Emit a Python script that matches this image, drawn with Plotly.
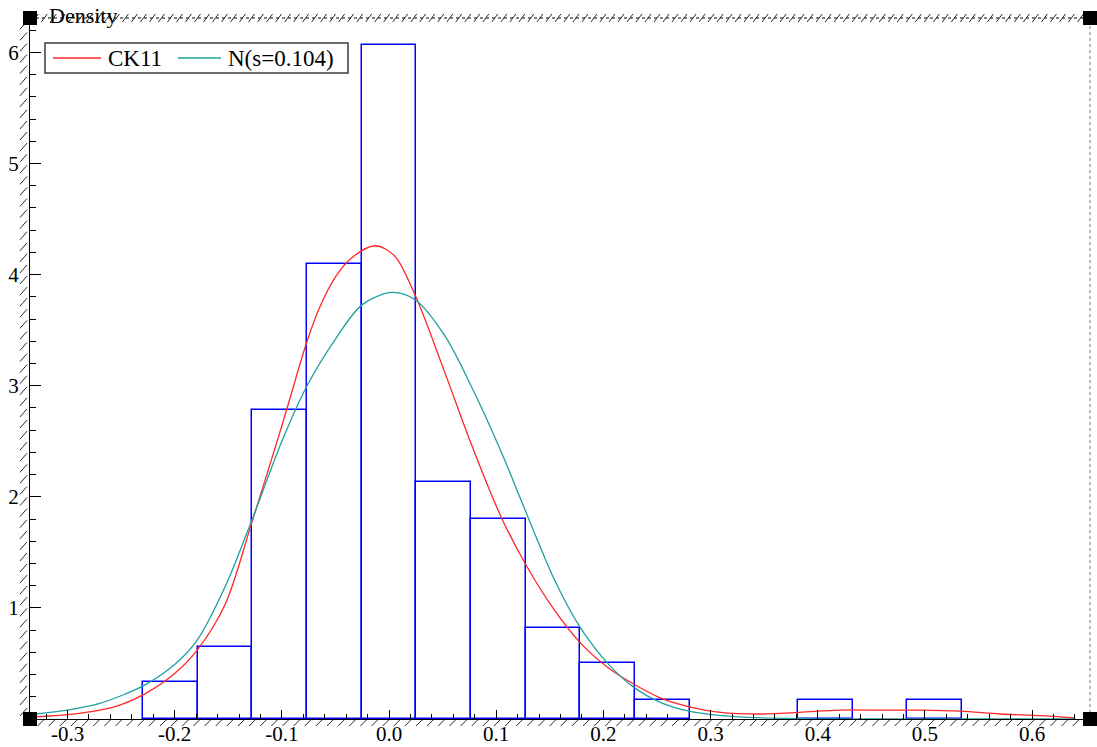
import plotly.graph_objects as go
import numpy as np

# ---- data ----
bin_width = 0.0509
bin_centers = [-0.204, -0.153, -0.102, -0.051, 0.0, 0.051, 0.102, 0.153, 0.204, 0.255, 0.407, 0.509]
bin_density = [0.33, 0.65, 2.78, 4.10, 6.07, 2.13, 1.80, 0.82, 0.50, 0.17, 0.17, 0.17]

kde_x = [-0.33, -0.30, -0.27, -0.25, -0.229, -0.20, -0.179, -0.153, -0.128, -0.10, -0.0765, -0.065,
         -0.05, -0.035, -0.013, 0.005, 0.025, 0.052, 0.0765, 0.104, 0.127, 0.155, 0.178, 0.206,
         0.229, 0.253, 0.28, 0.309, 0.346, 0.383, 0.42, 0.458, 0.495, 0.533, 0.57, 0.607, 0.64]
kde_y = [0.02, 0.04, 0.08, 0.13, 0.22, 0.41, 0.62, 1.03, 1.77, 2.64, 3.40, 3.70,
         3.98, 4.15, 4.26, 4.17, 3.80, 3.12, 2.48, 1.83, 1.40, 0.97, 0.69, 0.45,
         0.31, 0.19, 0.11, 0.06, 0.045, 0.06, 0.08, 0.08, 0.08, 0.07, 0.045, 0.03, 0.01]

norm_x = [-0.33, -0.30, -0.27, -0.25, -0.229, -0.20, -0.179, -0.153, -0.128, -0.10, -0.0765, -0.05,
          -0.025, 0.003, 0.025, 0.052, 0.0765, 0.104, 0.127, 0.155, 0.178, 0.206, 0.229, 0.253,
          0.28, 0.31, 0.35, 0.40, 0.50, 0.60, 0.64]
norm_y = [0.045, 0.08, 0.14, 0.21, 0.30, 0.49, 0.71, 1.19, 1.79, 2.50, 3.00, 3.42,
          3.73, 3.84, 3.77, 3.45, 3.00, 2.42, 1.88, 1.24, 0.83, 0.48, 0.28, 0.15,
          0.07, 0.03, 0.01, 0.002, 0.0, 0.0, 0.0]

kde_name = "CK11"
norm_name = "N(s=0.104)"

x_range = [-0.335, 0.654]
y_range = [0, 6.31]
x_ticks = [-0.3, -0.2, -0.1, 0.0, 0.1, 0.2, 0.3, 0.4, 0.5, 0.6]
x_ticklabels = ["-0.3", "-0.2", "-0.1", "0.0", "0.1", "0.2", "0.3", "0.4", "0.5", "0.6"]
y_ticks = [1, 2, 3, 4, 5, 6]
y_ticklabels = ["1", "2", "3", "4", "5", "6"]

FONT = "Liberation Serif"
RED = "rgb(255,40,40)"
TEAL = "rgb(32,160,160)"
BLUE = "rgb(0,0,255)"

W, H = 1097, 747
ML, MR, MT, MB = 30, 7, 18, 28
PW, PH = W - ML - MR, H - MT - MB


def px(xpix):
    return (xpix - ML) / PW


def py(ypix):
    return (H - MB - ypix) / PH


fig = go.Figure()
fig.add_trace(go.Bar(
    x=bin_centers, y=bin_density, width=bin_width,
    marker=dict(color="rgba(0,0,0,0)", line=dict(color=BLUE, width=1.5)),
    showlegend=False, hoverinfo="x+y"))
fig.add_trace(go.Scatter(
    x=kde_x, y=kde_y, mode="lines", name=kde_name, showlegend=False,
    line=dict(color=RED, width=1.3, shape="spline", smoothing=0.9)))
fig.add_trace(go.Scatter(
    x=norm_x, y=norm_y, mode="lines", name=norm_name, showlegend=False,
    line=dict(color=TEAL, width=1.3, shape="spline", smoothing=0.9)))

shapes = []
# dotted top border and right border
shapes.append(dict(type="line", xref="paper", yref="paper", x0=0, x1=1, y0=1, y1=1,
                   line=dict(color="black", width=1, dash="dot")))
shapes.append(dict(type="line", xref="paper", yref="paper", x0=1, x1=1, y0=0, y1=1,
                   line=dict(color="rgb(120,120,120)", width=1, dash="dot")))
# hatching strokes along top border
for xp in np.arange(0.005, 1.0, 0.0085):
    shapes.append(dict(type="line", xref="paper", yref="paper",
                       xsizemode="pixel", ysizemode="pixel", xanchor=xp, yanchor=1,
                       x0=-3, x1=3, y0=-4, y1=4, line=dict(color="rgb(40,40,40)", width=1)))
# hatching strokes along left axis
for yp in np.arange(0.01, 1.0, 0.0158):
    shapes.append(dict(type="line", xref="paper", yref="paper",
                       xsizemode="pixel", ysizemode="pixel", xanchor=0, yanchor=yp,
                       x0=-10, x1=-3, y0=-4, y1=4, line=dict(color="rgb(40,40,40)", width=1)))
# hatching strokes along bottom axis
for xp in np.arange(0.01, 1.0, 0.0105):
    shapes.append(dict(type="line", xref="paper", yref="paper",
                       xsizemode="pixel", ysizemode="pixel", xanchor=xp, yanchor=0,
                       x0=-3, x1=3, y0=-7, y1=-1, line=dict(color="rgb(40,40,40)", width=1)))
# black corner handles
for (xa, ya) in [(0, 0), (0, 1), (1, 0), (1, 1)]:
    shapes.append(dict(type="rect", xref="paper", yref="paper",
                       xsizemode="pixel", ysizemode="pixel", xanchor=xa, yanchor=ya,
                       x0=-7, x1=7, y0=-7, y1=7, fillcolor="black",
                       line=dict(color="black", width=0)))

# manual legend box
shapes.append(dict(type="rect", xref="paper", yref="paper",
                   x0=px(45), x1=px(348), y0=py(73), y1=py(43),
                   fillcolor="white", line=dict(color="rgb(60,60,60)", width=1.5)))
shapes.append(dict(type="line", xref="paper", yref="paper",
                   x0=px(53), x1=px(101), y0=py(58), y1=py(58),
                   line=dict(color=RED, width=1.3)))
shapes.append(dict(type="line", xref="paper", yref="paper",
                   x0=px(178), x1=px(221), y0=py(58), y1=py(58),
                   line=dict(color=TEAL, width=1.3)))

annotations = [
    dict(text="Density", xref="paper", yref="paper", x=px(47), y=1.0,
         xanchor="left", yanchor="middle", showarrow=False, yshift=3,
         font=dict(family=FONT, size=22, color="black")),
    dict(text=kde_name, xref="paper", yref="paper", x=px(106), y=py(58),
         xanchor="left", yanchor="middle", showarrow=False,
         font=dict(family=FONT, size=23, color="black")),
    dict(text=norm_name, xref="paper", yref="paper", x=px(226), y=py(58),
         xanchor="left", yanchor="middle", showarrow=False,
         font=dict(family=FONT, size=23, color="black")),
]

fig.update_layout(
    width=W, height=H,
    margin=dict(l=ML, r=MR, t=MT, b=MB, autoexpand=False),
    paper_bgcolor="white", plot_bgcolor="white",
    font=dict(family=FONT, size=21, color="black"),
    showlegend=False,
    bargap=0,
    shapes=shapes,
    annotations=annotations,
    xaxis=dict(range=x_range, showgrid=False, zeroline=False, automargin=False,
               showline=True, linecolor="black", linewidth=1.2,
               tickmode="array", tickvals=x_ticks, ticktext=x_ticklabels,
               ticks="inside", ticklen=9, tickcolor="black", tickwidth=1,
               minor=dict(ticks="inside", ticklen=5, dtick=0.02, tick0=0, tickcolor="black"),
               tickfont=dict(family=FONT, size=21), ticklabelstandoff=-4),
    yaxis=dict(range=y_range, showgrid=False, zeroline=False, automargin=False,
               showline=True, linecolor="black", linewidth=1.2,
               tickmode="array", tickvals=y_ticks, ticktext=y_ticklabels,
               ticks="inside", ticklen=11, tickcolor="black", tickwidth=1,
               minor=dict(ticks="inside", ticklen=6, dtick=0.2, tick0=0, tickcolor="black"),
               tickfont=dict(family=FONT, size=21), ticklabelstandoff=6),
)

fig.write_html(
    "out.html",
    config={"displayModeBar": False},
    post_script="document.body.style.margin='0';document.body.style.overflow='hidden';",
)
